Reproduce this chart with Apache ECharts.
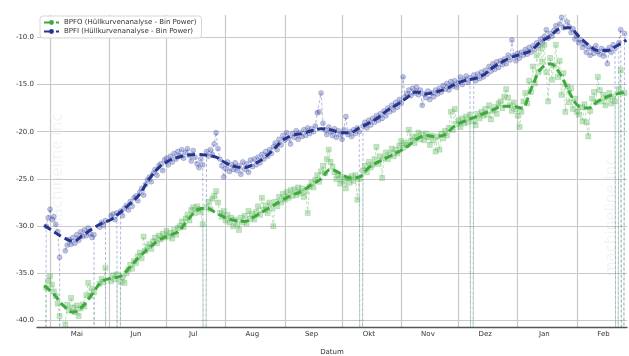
<!DOCTYPE html>
<html>
<head>
<meta charset="utf-8">
<script src="https://cdn.jsdelivr.net/npm/echarts/dist/echarts.min.js"></script>
<style>
  html, body { margin: 0; padding: 0; background: #fff; }
  #chart { width: 629px; height: 356px; }
</style>
</head>
<body>
<div id="chart"></div>
<script>
// daily readings start 2022-04-28, one value per day; -100 = sensor dropout, null = no reading
const startDay = [2022, 3, 28];

const bpfiRaw = [
  -100, -30.0, -29.1, -28.2, -29.3, -29.0, -29.8, -30.6, -33.3, -100,
  null, -32.6, -32.0, -31.4, -31.9, -31.2, -31.8, -30.9, -31.5, -30.6,
  -31.1, -30.4, -31.0, -30.2, -30.8, -31.2, -30.9, -100, null, -30.1,
  -29.6, -29.9, -29.4, -100, null, -28.9, -28.7, -29.3, -28.6, -100,
  -28.4, -28.9, -28.1, -27.8, -28.3, -27.4, -27.9, -27.0, -26.8, -27.3,
  -26.4, -26.0, -26.7, -25.6, -25.1, -24.8, -25.3, -24.4, -24.0, -24.6,
  -23.6, -23.4, -24.1, -23.0, -22.8, -23.5, -22.6, -23.2, -22.3, -22.9,
  -22.1, -22.6, -21.9, -22.8, -22.2, -21.8, -22.5, -23.1, -22.0, -22.7,
  -23.4, -23.8, -22.9, -23.5, -100, -22.1, -22.6, -21.9, -22.4, -21.3,
  -20.1, -21.8, -22.9, -23.6, -24.8, -23.9, -23.2, -24.2, -23.5, -24.0,
  -23.3, -24.1, -23.6, -24.5, -23.2, -24.0, -23.4, -24.3, -23.0, -23.7,
  -22.9, -23.5, -22.7, -23.3, -22.4, -22.9, -22.1, -22.6, -21.9, -22.3,
  -21.6, -21.2, -21.9, -20.8, -21.4, -20.4, -20.9, -20.1, -20.7, -21.3,
  -20.2, -20.6, -19.9, -20.8, -20.1, -20.5, -19.8, -20.4, -19.6, -20.2,
  -19.7, -20.0, -19.4, -18.0, -17.9, -15.9, -19.1, -19.8, -20.3, -19.5,
  -20.0, -20.4, -19.7, -20.6, -19.9, -20.3, -20.8, -19.8, -18.4, -20.3,
  -20.0, -20.5, -19.8, -20.2, -19.6, -20.0, -100, -19.4, -19.0, -19.6,
  -18.8, -19.3, -18.6, -19.0, -18.3, -18.8, -18.1, -18.6, -17.8, -18.3,
  -17.5, -17.9, -17.2, -17.7, -16.9, -17.4, -16.6, -17.0, -14.2, -16.3,
  -16.0, -15.6, -16.2, -15.4, -15.9, -15.3, -16.1, -15.6, -17.2, -16.0,
  -16.4, -15.7, -16.6, -15.9, -16.3, -15.6, -16.0, -15.4, -15.8, -15.1,
  -15.5, -14.9, -15.6, -14.7, -15.2, -14.6, -15.3, -14.8, -14.2, -15.0,
  -14.5, -14.1, -14.8, -14.3, -100, -14.0, -14.6, -13.9, -14.4, -13.7,
  -14.2, -13.5, -13.9, -13.1, -13.6, -12.8, -13.4, -12.6, -13.2, -12.5,
  -12.9, -12.3, -12.8, -11.9, -12.4, -10.3, -11.9, -12.5, -11.7, -12.2,
  -11.6, -11.9, -11.3, -11.8, -11.1, -11.6, -10.9, -11.3, -10.6, -10.9,
  -10.2, -10.6, -9.9, -9.2, -10.1, -9.6, -9.9, -9.3, -8.8, -9.4,
  -8.6, -7.9, -9.0, -7.6, -8.4, -8.9, -9.5, -9.1, -10.2, -9.8,
  -10.6, -10.3, -11.1, -10.7, -11.6, -11.0, -11.9, -11.2, -11.7, -10.9,
  -11.5, -11.8, -11.2, -12.0, -11.4, -12.8, -11.1, -11.6, -10.8, -11.2,
  -100, -10.6, -9.2, -100, -9.6
];

const bpfoRaw = [
  -100, -36.5, -35.8, -35.3, -36.2, -36.9, -37.4, -38.2, -39.5, -100,
  null, -40.4, -38.3, -38.9, -37.6, -38.6, -39.1, -38.4, -39.5, -38.7,
  -38.3, -38.5, -37.3, -36.0, -37.4, -36.6, -37.0, -100, null, -36.1,
  -35.6, -35.9, -34.4, -100, null, -35.8, -35.2, -35.6, -35.1, -100,
  -35.9, -35.4, -36.0, -35.0, -34.6, -34.1, -34.5, -33.7, -33.9, -33.2,
  -32.8, -33.4, -31.1, -32.6, -32.2, -31.9, -32.4, -31.6, -31.2, -31.8,
  -31.0, -31.4, -30.8, -31.2, -30.5, -31.1, -30.7, -31.3, -30.4, -30.9,
  -30.2, -30.0, -29.5, -30.1, -29.2, -28.8, -29.4, -28.3, -28.0, -28.6,
  -27.9, -28.2, -28.5, -29.8, -100, -28.0, -27.4, -28.2, -27.1, -26.8,
  -26.3, -27.5, -28.6, -29.0, -28.4, -29.4, -28.8, -29.6, -29.1, -30.0,
  -29.3, -29.8, -30.4, -29.1, -29.6, -28.9, -29.7, -28.4, -29.2, -28.7,
  -29.3, -28.5, -27.9, -28.8, -27.0, -28.3, -27.8, -28.6, -27.5, -28.1,
  -30.0, -27.4, -27.9, -26.9, -27.5, -26.6, -27.2, -26.4, -27.0, -26.2,
  -26.8, -26.1, -26.7, -25.9, -26.5, -26.0, -26.9, -26.3, -28.6, -25.8,
  -25.4, -25.9, -25.1, -24.6, -25.3, -24.2, -23.6, -24.4, -22.9, -21.9,
  -23.2, -23.7, -24.3, -25.0, -24.6, -25.5, -24.8, -25.3, -26.0, -24.9,
  -25.4, -24.7, -25.2, -24.6, -27.2, -25.0, -100, -24.1, -23.6, -24.3,
  -23.2, -23.8, -23.5, -22.9, -21.6, -23.4, -22.6, -24.9, -22.8, -22.2,
  -22.9, -22.4, -21.8, -22.6, -21.9, -22.3, -21.5, -21.0, -21.7, -21.2,
  -21.4, -19.8, -21.0, -20.5, -21.2, -20.6, -20.1, -20.8, -20.3, -20.9,
  -20.2, -20.6, -21.4, -20.4, -20.9, -22.1, -20.5, -21.9, -20.2, -20.7,
  -19.9, -20.4, -19.6, -17.9, -19.8, -17.6, -19.2, -18.8, -19.5, -18.6,
  -19.1, -18.4, -19.0, -18.2, -100, -18.9, -19.3, -18.1, -18.6, -17.9,
  -18.3, -17.6, -18.2, -17.2, -18.7, -17.8, -17.4, -18.1, -17.0, -16.8,
  -17.5, -16.3, -15.5, -16.4, -17.2, -17.8, -16.9, -17.6, -18.3, -19.5,
  -17.9, -16.8, -15.9, -17.0, -14.6, -15.8, -13.1, -14.9, -11.9, -13.7,
  -11.2, -12.6, -10.8, -13.7, -16.8, -12.2, -14.5, -13.0, -10.8, -14.2,
  -12.5, -16.1, -13.8, -17.9, -15.2, -16.9, -15.4, -17.6, -16.5, -17.9,
  -18.2, -17.4, -18.9, -17.1, -19.0, -20.5, -17.8, -16.5, -15.8, -16.9,
  -14.2, -15.6, -16.8, -16.1, -17.2, -16.4, -15.9, -17.0, -16.3, -16.8,
  -100, -15.5, -13.5, -100, -15.9
];

// rolling trend, one value every 5 days from the start day
const trendStep = 5;
const bpfiTrend = [
  -29.9, -30.6, -31.2, -31.6, -31.0, -30.3, -29.7, -29.3, -28.5, -27.6,
  -26.6, -25.0, -23.8, -23.1, -22.7, -22.5, -22.4, -22.5, -22.7, -23.3,
  -23.7, -23.8, -23.4, -22.8, -21.9, -20.9, -20.4, -20.2, -19.9, -19.7,
  -19.8, -20.1, -20.1, -19.6, -19.1, -18.5, -17.7, -17.1, -16.4, -15.8,
  -16.0, -15.8, -15.5, -15.0, -14.6, -14.4, -14.0, -13.2, -12.6, -12.1,
  -11.8, -11.4, -10.5, -9.9, -9.1, -9.0, -9.9, -10.8, -11.4, -11.4,
  -10.9, -10.3
];
const bpfoTrend = [
  -36.3, -37.2, -38.4, -39.1, -38.5, -37.2, -35.9, -35.5, -35.3, -34.3,
  -33.2, -32.3, -31.5, -31.0, -30.6, -29.4, -28.3, -28.1, -28.6, -29.1,
  -29.4, -29.5, -29.0, -28.4, -27.8, -27.2, -26.7, -26.3, -25.6, -25.0,
  -24.0, -24.4, -24.9, -24.8, -23.8, -23.2, -22.7, -22.2, -21.6, -20.8,
  -20.4, -20.5, -20.3, -19.4, -18.9, -18.5, -18.1, -17.7, -17.3, -17.3,
  -17.5, -15.5, -13.4, -12.8, -13.8, -15.8, -17.3, -17.5, -16.8, -16.3,
  -16.0, -15.8
];

const monthStarts = ['2022-05-01', '2022-06-01', '2022-07-01', '2022-08-01', '2022-09-01',
  '2022-10-01', '2022-11-01', '2022-12-01', '2023-01-01', '2023-02-01'];
const monthMids = ['2022-05-15', '2022-06-15', '2022-07-15', '2022-08-15', '2022-09-15',
  '2022-10-15', '2022-11-15', '2022-12-15', '2023-01-15', '2023-02-15'];
const monthLabels = ['Mai', 'Jun', 'Jul', 'Aug', 'Sep', 'Okt', 'Nov', 'Dez', 'Jan', 'Feb'];
const yTicks = [-40, -35, -30, -25, -20, -15, -10];

const nameBPFO = 'BPFO (Hüllkurvenanalyse - Bin Power)';
const nameBPFI = 'BPFI (Hüllkurvenanalyse - Bin Power)';

const parseDay = s => {
  const p = s.split('-').map(Number);
  return new Date(p[0], p[1] - 1, p[2]).getTime();
};
const dayTime = i => new Date(startDay[0], startDay[1], startDay[2] + i).getTime();

const startTicks = monthStarts.map(parseDay);
const midTicks = monthMids.map(parseDay);

const font = 'DejaVu Sans';

const chart = echarts.init(document.getElementById('chart'));

const rawSeries = (name, values, symbol, rgb) => ({
  name,
  type: 'line',
  data: values.map((v, i) => [dayTime(i), v]),
  symbol,
  symbolSize: 5,
  showAllSymbol: true,
  connectNulls: false,
  itemStyle: { color: 'rgba(' + rgb + ',0.3)', borderColor: 'rgba(' + rgb + ',0.4)', borderWidth: 0.6 },
  lineStyle: { color: 'rgba(' + rgb + ',0.4)', width: 0.9, type: [3, 2] },
  emphasis: { disabled: true },
  z: 2
});

const trendSeries = (name, values, color) => ({
  name,
  type: 'line',
  data: values.map((v, k) => [dayTime(k * trendStep), v]),
  symbol: 'none',
  smooth: 0.4,
  lineStyle: { color, width: 3, type: [8, 4] },
  itemStyle: { color },
  emphasis: { disabled: true },
  z: 4
});

const option = {
  animation: false,
  grid: { left: 37, right: 2, top: 15, bottom: 29, outerBoundsMode: 'none', containLabel: false },
  legend: {
    data: [nameBPFO, nameBPFI],
    orient: 'vertical',
    left: 40,
    top: 16,
    itemWidth: 15,
    itemHeight: 6,
    itemGap: 2,
    padding: [3, 5, 3, 3],
    backgroundColor: 'rgba(255,255,255,0.9)',
    borderColor: '#d6d6d6',
    borderWidth: 1,
    borderRadius: 3,
    selectedMode: false,
    textStyle: { fontSize: 7, color: '#333', fontFamily: font }
  },
  xAxis: {
    type: 'value',
    min: new Date(2022, 3, 24, 4).getTime(),
    max: new Date(2023, 1, 27, 7).getTime(),
    axisLine: { show: true, lineStyle: { color: '#555', width: 1.3 } },
    axisTick: { show: false, customValues: startTicks },
    splitLine: { show: true, lineStyle: { color: '#c9c9c9', width: 1.2 } },
    axisLabel: {
      customValues: midTicks,
      fontSize: 7,
      color: '#333',
      fontFamily: font,
      margin: 4,
      formatter: v => {
        const d = new Date(v);
        return monthLabels[(d.getMonth() - 4 + 12) % 12];
      }
    },
    name: 'Datum',
    nameLocation: 'middle',
    nameGap: 22,
    nameTextStyle: { fontSize: 7, color: '#333', fontFamily: font }
  },
  yAxis: {
    type: 'value',
    min: -40.67,
    max: -7.65,
    axisLine: { show: false },
    axisTick: { show: false, customValues: yTicks },
    splitLine: { show: true, lineStyle: { color: '#c9c9c9', width: 1.2 } },
    axisLabel: {
      customValues: yTicks,
      fontSize: 7,
      color: '#333',
      fontFamily: font,
      margin: 3,
      formatter: v => v.toFixed(1)
    }
  },
  graphic: [
    { type: 'text', x: 58, y: 232, rotation: Math.PI / 2, silent: true,
      style: { text: 'machineline Inc', fontSize: 15, fontFamily: font, fill: 'rgba(0,0,0,0.05)', verticalAlign: 'middle' } },
    { type: 'text', x: 612, y: 276, rotation: Math.PI / 2, silent: true,
      style: { text: 'machineline Inc', fontSize: 15, fontFamily: font, fill: 'rgba(0,0,0,0.05)', verticalAlign: 'middle' } }
  ],
  series: [
    rawSeries('BPFI Messwerte', bpfiRaw, 'circle', '48,63,159'),
    rawSeries('BPFO Messwerte', bpfoRaw, 'rect', '67,170,67'),
    trendSeries(nameBPFO, bpfoTrend, '#3daa3d'),
    trendSeries(nameBPFI, bpfiTrend, '#27348b')
  ]
};

chart.setOption(option);
</script>
</body>
</html>
